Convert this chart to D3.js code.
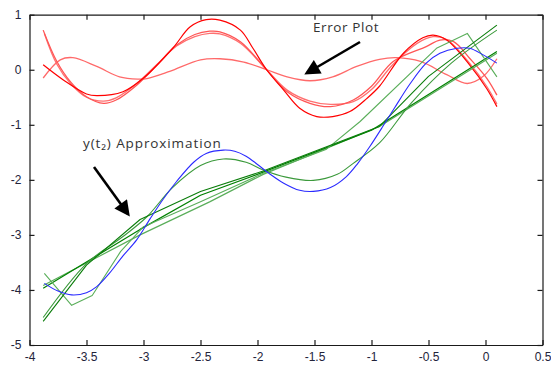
<html>
    <head>
        <title>Error Plot</title>
        <style>
            body { margin: 0; background: white; }
            text { font-family: "Liberation Sans", Arial, sans-serif; }
        </style>
    </head>
    <body>
        <svg id="container" width="551" height="365" style="background:white">
            <g id="lines"></g>
            <g id="xAxis"></g>
            <g id="yAxis"></g>
            <g id="topAxis"></g>
            <g id="rightAxis"></g>
            <g id="notes"></g>
        </svg>
    </body>
    <script src="https://d3js.org/d3.v7.min.js"></script>
    <script>
        // tick labels
        let xTicks = [-4, -3.5, -3, -2.5, -2, -1.5, -1, -0.5, 0, 0.5]
        let yTicks = [-5, -4, -3, -2, -1, 0, 1]

        // exact solution (blue)
        let exact = [[-3.87,-3.88],[-3.75,-4.02],[-3.63,-4.09],[-3.5,-4.05],[-3.41,-3.94],[-3.3,-3.7],[-3.18,-3.38],[-3.06,-3.09],
                     [-2.94,-2.7],[-2.82,-2.33],[-2.71,-2.03],[-2.56,-1.68],[-2.45,-1.52],[-2.3,-1.46],[-2.2,-1.48],[-2.1,-1.57],
                     [-2.0,-1.72],[-1.9,-1.88],[-1.77,-2.06],[-1.63,-2.19],[-1.51,-2.21],[-1.36,-2.14],[-1.22,-1.94],[-1.12,-1.7],
                     [-1.01,-1.38],[-0.91,-1.06],[-0.8,-0.7],[-0.66,-0.25],[-0.52,0.12],[-0.4,0.3],[-0.25,0.39],[-0.14,0.39],
                     [-0.02,0.27],[0.1,0.12]]

        // y(t2) approximations (green)
        let approxHump = [[-3.88,-4.5],[-3.5,-3.52],[-3.18,-3.03],[-2.97,-2.67],[-2.75,-2.15],[-2.5,-1.74],[-2.3,-1.62],[-2.1,-1.68],
                          [-1.95,-1.82],[-1.75,-1.95],[-1.51,-2.01],[-1.3,-1.9],[-1.16,-1.7],[-0.93,-1.33],[-0.65,-0.6],[-0.3,0.12],[0.1,0.72]]
        let approxSteep = [[-3.88,-4.57],[-3.5,-3.55],[-3.03,-2.72],[-2.5,-2.21],[-1.95,-1.84],[-0.93,-1.03],[-0.5,-0.12],[0.1,0.81]]
        let approxLineA = [[-3.88,-3.97],[-3.03,-2.9],[-2.5,-2.28],[-1.95,-1.86],[-1.0,-1.1],[0.1,0.33]]
        let approxLineB = [[-3.88,-3.92],[-3.03,-3.0],[-2.42,-2.4],[-1.95,-1.9],[-0.93,-1.03],[0.1,0.3]]
        let approxZigzag = [[-3.87,-3.7],[-3.63,-4.28],[-3.45,-4.1],[-3.2,-3.3],[-3.0,-2.85],[-2.5,-2.4],[-1.95,-1.88],
                            [-1.4,-1.45],[-1.1,-0.94],[-0.43,0.39],[-0.16,0.66],[0.1,-0.13]]

        // error curves (red)
        let errorA = [[-3.88,0.09],[-3.7,-0.19],[-3.5,-0.44],[-3.41,-0.47],[-3.18,-0.4],[-3.0,-0.15],[-2.74,0.4],[-2.59,0.78],
                      [-2.45,0.91],[-2.33,0.9],[-2.15,0.72],[-2.04,0.39],[-1.92,0.0],[-1.77,-0.37],[-1.63,-0.7],[-1.48,-0.85],
                      [-1.34,-0.85],[-1.19,-0.76],[-1.04,-0.52],[-0.93,-0.3],[-0.72,0.3],[-0.55,0.58],[-0.46,0.63],[-0.34,0.54],
                      [-0.14,0.09],[0.01,-0.34],[0.1,-0.67]]
        let errorB = [[-3.88,0.72],[-3.76,0.15],[-3.64,-0.22],[-3.5,-0.49],[-3.35,-0.61],[-3.24,-0.55],[-3.06,-0.28],[-2.88,0.09],
                      [-2.71,0.45],[-2.55,0.64],[-2.42,0.7],[-2.33,0.69],[-2.15,0.51],[-1.92,0.0],[-1.74,-0.4],[-1.54,-0.61],
                      [-1.36,-0.67],[-1.16,-0.55],[-1.0,-0.3],[-0.81,0.15],[-0.52,0.42],[-0.4,0.54],[-0.28,0.51],[-0.14,0.21],
                      [0.01,-0.15],[0.1,-0.46]]
        let errorC = [[-3.87,0.66],[-3.76,0.1],[-3.64,-0.25],[-3.5,-0.5],[-3.35,-0.57],[-3.24,-0.51],[-3.06,-0.25],[-2.88,0.1],
                      [-2.71,0.43],[-2.55,0.6],[-2.42,0.66],[-2.33,0.65],[-2.15,0.48],[-1.92,0.0],[-1.74,-0.37],[-1.54,-0.57],
                      [-1.36,-0.63],[-1.16,-0.58],[-1.0,-0.36],[-0.81,0.1],[-0.6,0.48],[-0.46,0.6],[-0.34,0.55],[-0.14,0.12],
                      [0.01,-0.3],[0.1,-0.62]]
        let errorSmall = [[-3.88,-0.15],[-3.73,0.18],[-3.62,0.22],[-3.41,0.06],[-3.21,-0.13],[-3.05,-0.17],[-2.97,-0.16],[-2.77,-0.03],
                          [-2.5,0.18],[-2.33,0.2],[-2.12,0.14],[-1.92,0.0],[-1.74,-0.13],[-1.54,-0.2],[-1.34,-0.13],[-1.13,0.06],
                          [-0.93,0.19],[-0.78,0.22],[-0.57,0.15],[-0.34,-0.09],[-0.16,-0.25],[-0.02,-0.12],[0.1,0.2]]

        let smooth = d3.curveCatmullRom.alpha(0.5)
        let straight = d3.curveLinear
        let series = [
            {data: errorSmall, color: "#ff6a6a", width: 1.3, curve: smooth},
            {data: errorC, color: "#ff7070", width: 1.3, curve: smooth},
            {data: errorB, color: "#ff5555", width: 1.3, curve: smooth},
            {data: errorA, color: "#ff0000", width: 1.2, curve: smooth},
            {data: approxLineB, color: "#5aae5a", width: 1.2, curve: straight},
            {data: approxLineA, color: "#008000", width: 1.2, curve: straight},
            {data: approxZigzag, color: "#5aae5a", width: 1.1, curve: straight},
            {data: approxHump, color: "#3c9a3c", width: 1.1, curve: smooth},
            {data: approxSteep, color: "#0a7d0a", width: 1.1, curve: straight},
            {data: exact, color: "#2a2aff", width: 1.1, curve: smooth}
        ]

        let container = d3.select("#container")

        let xScale = d3.scaleLinear().domain([-4, 0.5]).range([29.5, 542.5])
        let yScale = d3.scaleLinear().domain([-5, 1]).range([345, 14.7])

        d3.select("#lines").selectAll("path")
            .data(series)
            .enter()
            .append("path")
            .attr("d", d => d3.line()
                              .x(p => xScale(p[0]))
                              .y(p => yScale(p[1]))
                              .curve(d.curve)(d.data))
            .style("fill", "none")
            .style("stroke", d => d.color)
            .style("stroke-width", d => d.width)
            .style("stroke-linejoin", "round")

        let xAxis = d3.axisBottom(xScale)
                      .tickValues(xTicks)
                      .tickSizeInner(-5)
                      .tickSizeOuter(0)
                      .tickPadding(7)
                      .tickFormat(d => String(d))
        d3.select("#xAxis")
          .attr("transform", "translate(0, 345)")
          .call(xAxis)

        let yAxis = d3.axisLeft(yScale)
                      .tickValues(yTicks)
                      .tickSizeInner(-5)
                      .tickSizeOuter(0)
                      .tickPadding(8)
                      .tickFormat(d => String(d))
        d3.select("#yAxis")
          .attr("transform", "translate(29.5, 0)")
          .call(yAxis)

        d3.select("#topAxis")
          .attr("transform", "translate(0, 14.7)")
          .call(d3.axisTop(xScale).tickValues(xTicks).tickSizeInner(-5).tickSizeOuter(0).tickFormat(""))

        d3.select("#rightAxis")
          .attr("transform", "translate(542.5, 0)")
          .call(d3.axisRight(yScale).tickValues(yTicks).tickSizeInner(-5).tickSizeOuter(0).tickFormat(""))

        container.selectAll(".domain, .tick line")
                 .style("stroke", "#1a1a1a")
                 .style("stroke-width", 1.2)
        container.selectAll(".tick text")
                 .style("font-size", "12px")
                 .style("fill", "#23233a")

        // annotations
        let notes = d3.select("#notes")
        container.append("defs").append("marker")
                 .attr("id", "head")
                 .attr("viewBox", "0 0 10 10")
                 .attr("refX", 8).attr("refY", 5)
                 .attr("markerWidth", 7).attr("markerHeight", 6)
                 .attr("orient", "auto")
                 .append("path")
                 .attr("d", "M0,0 L10,5 L0,10 z")
                 .style("fill", "black")

        notes.append("text")
             .attr("x", 313).attr("y", 32)
             .style("font-family", "'Open Sans', sans-serif")
             .style("font-size", "13.5px")
             .style("letter-spacing", "0.6px")
             .style("fill", "#333")
             .text("Error Plot")
        notes.append("line")
             .attr("x1", 360).attr("y1", 42).attr("x2", 307).attr("y2", 73)
             .style("stroke", "black").style("stroke-width", 2.6)
             .attr("marker-end", "url(#head)")

        let label = notes.append("text")
             .attr("x", 83).attr("y", 148)
             .style("font-family", "'Open Sans', sans-serif")
             .style("font-size", "13.5px")
             .style("letter-spacing", "0.9px")
             .style("fill", "#333")
        label.append("tspan").text("y(t")
        label.append("tspan").text("₂")
        label.append("tspan").text(") Approximation")
        notes.append("line")
             .attr("x1", 94).attr("y1", 167).attr("x2", 128).attr("y2", 214)
             .style("stroke", "black").style("stroke-width", 2.6)
             .attr("marker-end", "url(#head)")
    </script>
</html>
